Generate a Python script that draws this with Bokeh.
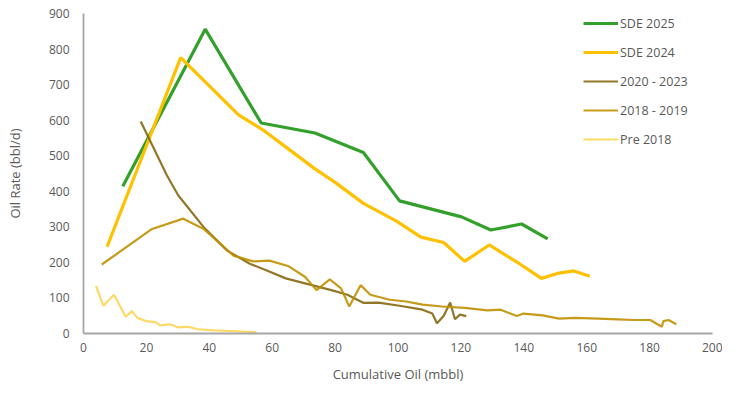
from bokeh.plotting import figure
from bokeh.models import Range1d, FixedTicker, Legend, LegendItem
from bokeh.embed import file_html
from bokeh.resources import INLINE

# SDE 2025
sde25_x = [12.5, 38.7, 56.5, 73.6, 89.0, 100.5, 120.2, 129.5, 139.3, 147.6]
sde25_y = [414, 856, 592, 564, 509, 373, 328, 291, 308, 266]

# SDE 2024
sde24_x = [7.5, 30.9, 49.3, 57.0, 65.0, 73.6, 80.0, 89.0, 99.5, 107.3, 114.5, 121.2, 129.0, 137.8, 145.6, 151.2, 155.9, 161.0]
sde24_y = [244, 776, 615, 573, 520, 463, 425, 366, 316, 271, 256, 203, 249, 201, 155, 170, 176, 161]

# 2020 - 2023
y2023_x = [18.2, 26.5, 30.1, 38.4, 45.7, 52.9, 58.1, 64.3, 72.6, 78.8, 83.9, 89.1, 93.8, 100.5, 107.8, 110.9, 112.4, 114.5, 116.6, 118.1, 119.7, 121.7]
y2023_y = [596, 445, 389, 297, 233, 196, 178, 155, 136, 122, 109, 86, 87, 78, 67, 56, 29, 49, 87, 40, 53, 49]

# 2018 - 2019
y2019_x = [5.8, 21.8, 31.7, 38.4, 47.7, 53.9, 59.1, 65.3, 70.5, 74.1, 78.3, 81.9, 84.5, 88.1, 91.2, 97.4, 102.6, 107.8, 114.0, 121.2, 128.5, 132.6, 137.8, 139.9, 146.0, 151.2, 156.3, 163.7, 169.9, 175.0, 180.2, 183.9, 184.4, 186.0, 188.5]
y2019_y = [194, 294, 323, 293, 219, 203, 205, 189, 159, 122, 152, 127, 76, 136, 109, 95, 90, 81, 76, 72, 65, 67, 49, 56, 51, 42, 44, 42, 40, 38, 38, 19, 35, 38, 26]

# Pre 2018
pre_x = [4.0, 6.3, 9.7, 13.4, 15.4, 17.2, 19.8, 22.9, 24.4, 27.5, 30.1, 33.2, 36.3, 41.5, 46.7, 50.8, 55.0]
pre_y = [134, 78, 109, 47, 63, 44, 35, 32, 23, 26, 17, 19, 12, 9, 7, 5, 4]

x_ticks = list(range(0, 201, 20))
y_ticks = list(range(0, 901, 100))

FONT = "Open Sans"
GREY = "#595959"

p = figure(width=722, height=386, output_backend="svg", toolbar_location=None,
           x_range=Range1d(0, 200), y_range=Range1d(0, 900),
           min_border_left=83, min_border_right=10, min_border_top=13, min_border_bottom=53)
p.outline_line_color = None
p.xgrid.grid_line_color = None
p.ygrid.grid_line_color = None

r1 = p.line(sde25_x, sde25_y, line_color="#33A02C", line_width=3.2)
r2 = p.line(sde24_x, sde24_y, line_color="#FFC000", line_width=3.2)
r3 = p.line(y2023_x, y2023_y, line_color="#7F6000", line_width=2.2, line_alpha=0.85)
r4 = p.line(y2019_x, y2019_y, line_color="#BF9000", line_width=2.2, line_alpha=0.9)
r5 = p.line(pre_x, pre_y, line_color="#FFD966", line_width=2.2)

for ax, ticks in ((p.xaxis[0], x_ticks), (p.yaxis[0], y_ticks)):
    ax.ticker = FixedTicker(ticks=ticks)
    ax.major_tick_line_color = None
    ax.minor_tick_line_color = None
    ax.major_tick_out = 0
    ax.major_tick_in = 0
    ax.minor_tick_out = 0
    ax.minor_tick_in = 0
    ax.axis_line_color = "#A6A6A6"
    ax.axis_line_width = 1.8
    ax.major_label_text_font = FONT
    ax.major_label_text_font_size = "12px"
    ax.major_label_text_color = GREY
    ax.axis_label_text_font = FONT
    ax.axis_label_text_font_size = "13px"
    ax.axis_label_text_color = GREY
    ax.axis_label_text_font_style = "normal"

p.xaxis.axis_label = "Cumulative Oil (mbbl)"
p.yaxis.axis_label = "Oil Rate (bbl/d)"
p.xaxis.major_label_standoff = 9
p.yaxis.major_label_standoff = 14
p.xaxis.axis_label_standoff = 10
p.yaxis.axis_label_standoff = 22

legend = Legend(items=[
    LegendItem(label="SDE 2025", renderers=[r1]),
    LegendItem(label="SDE 2024", renderers=[r2]),
    LegendItem(label="2020 - 2023", renderers=[r3]),
    LegendItem(label="2018 - 2019", renderers=[r4]),
    LegendItem(label="Pre 2018", renderers=[r5]),
], location=(500, 184))
legend.padding = 0
legend.margin = 0
legend.spacing = 9
legend.glyph_width = 35
legend.glyph_height = 20
legend.label_height = 20
legend.label_standoff = 2
legend.label_text_font = FONT
legend.label_text_font_size = "12.5px"
legend.label_text_color = GREY
legend.border_line_alpha = 0
legend.background_fill_alpha = 0
p.add_layout(legend, "center")

open("out.html", "w").write(file_html(p, INLINE))
